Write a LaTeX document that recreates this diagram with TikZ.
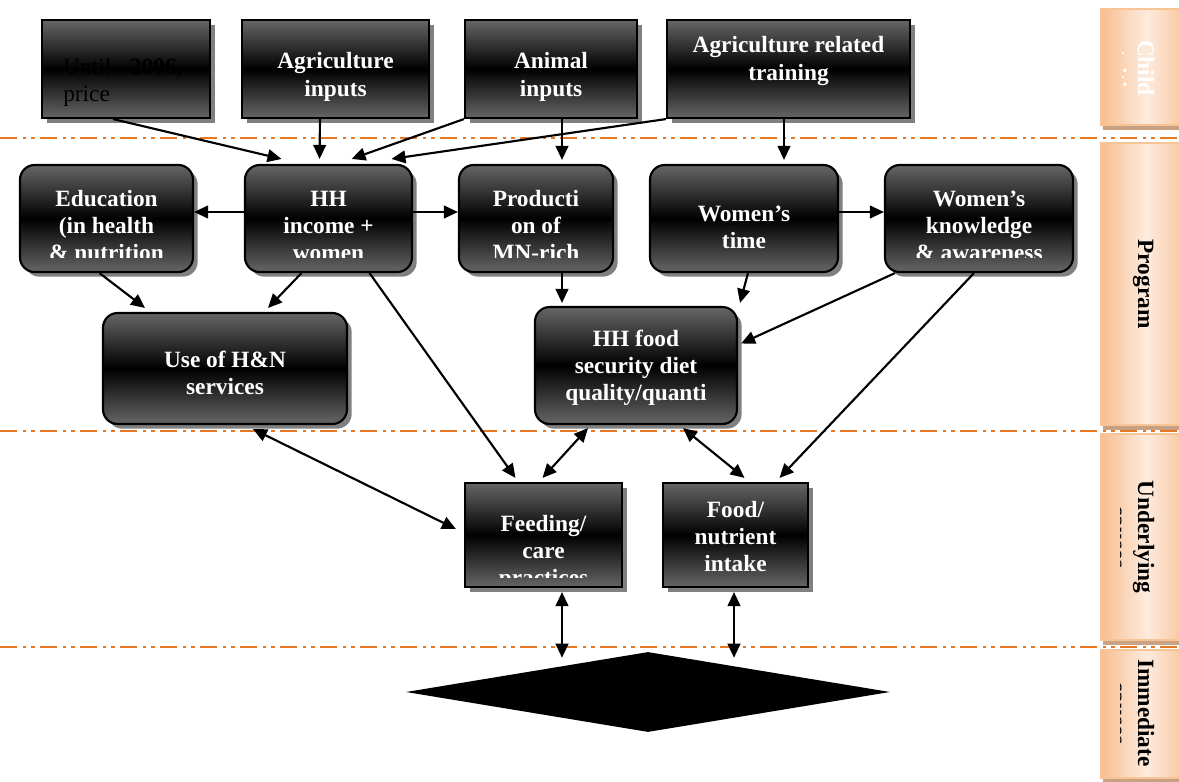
\documentclass[tikz,border=0pt]{standalone}
\usepackage{fontspec}
\setmainfont{Liberation Serif}
\usetikzlibrary{shapes.geometric,arrows.meta,calc,fit,shadows}
\definecolor{orng}{RGB}{232,119,34}
\definecolor{pk}{RGB}{248,190,145}
\definecolor{pl}{RGB}{253,236,222}
\definecolor{pkb}{RGB}{247,196,150}
\definecolor{pks}{RGB}{200,160,130}
\definecolor{gtop}{RGB}{102,102,102}
\tikzset{
 gbox/.style={draw=black, line width=1.6pt, top color=gtop, bottom color=gtop, middle color=black, inner sep=0pt,
   drop shadow={shadow xshift=3.5pt, shadow yshift=-3.5pt, fill=black!50, opacity=1}},
 rbox/.style={gbox, rounded corners=11pt},
 txt/.style={text=white, font=\fontsize{17.5}{20.5}\selectfont\bfseries, align=center, inner sep=0pt, anchor=north},
 arr/.style={line width=1.6pt, -{Triangle[length=10.5pt,width=9.5pt]}},
 darr/.style={line width=1.6pt, {Triangle[length=10.5pt,width=9.5pt]}-{Triangle[length=10.5pt,width=9.5pt]}},
 sep/.style={draw=orng, line width=2pt, dash pattern=on 13pt off 4pt on 2.5pt off 4pt on 2.5pt off 4pt},
 lbox/.style={draw=pkb, line width=1pt, left color=pk, right color=pk, middle color=pl, inner sep=0pt,
   drop shadow={shadow xshift=1.5pt, shadow yshift=-3.5pt, fill=pks, opacity=1}},
 ltxt/.style={font=\fontsize{17.5}{20.5}\selectfont\bfseries, rotate=-90, anchor=base, inner sep=0pt},
}
\begin{document}
\begin{tikzpicture}[x=0.75pt,y=-0.75pt]
\fill[white] (0,0) rectangle (1179,782);
\useasboundingbox (0,0) rectangle (1179,782);
% separators
\draw[sep] (0,138) -- (1179,138);
\draw[sep] (0,431) -- (1179,431);
\draw[sep] (0,647) -- (1179,647);
% level labels
\node[lbox, fit={(1101,9) (1192,125)}] (lchild) {};
\node[ltxt, text=white] (tchild) at (1138,68) {Child};
\begin{scope}\clip (1122,20) rectangle (1192,120);
\node[ltxt, text=white] (tchild2) at (1110.7,68) {nutrition};
\end{scope}
\node[lbox, fit={(1101,143) (1192,425)}] (lprog) {};
\node[ltxt] (tprog) at (1138,284) {Program};
\node[lbox, fit={(1101,434) (1192,640)}] (lunder) {};
\node[ltxt] (tunder) at (1138,537) {Underlying};
\begin{scope}\clip (1120,450) rectangle (1192,630);
\node[ltxt] (tunder2) at (1110.7,537) {causes};
\end{scope}
\node[lbox, fit={(1101,650) (1192,778)}] (limmed) {};
\node[ltxt] (timmed) at (1138,713) {Immediate};
\begin{scope}\clip (1120,660) rectangle (1192,775);
\node[ltxt] (timmed2) at (1110.7,713) {causes};
\end{scope}
% top row
\node[gbox, fit={(42,20) (210,118)}] (until) {};
\node[txt, text=black, font=\fontsize{17.5}{20.5}\selectfont, align=left, anchor=north west] (tuntil) at (63,54.9) {\strut Until\hspace{14pt}\textbf{2006,}\\price};
\node[gbox, fit={(242,20) (429,118)}] (agin) {};
\node[txt] (tagin) at (335.5,49.5) {\strut Agriculture\\inputs};
\node[gbox, fit={(465,20) (637,118)}] (anin) {};
\node[txt] (tanin) at (551,49.5) {\strut Animal\\inputs};
\node[gbox, fit={(667,20) (910,118)}] (train) {};
\node[txt] (ttrain) at (788.5,33.5) {\strut Agriculture related\\training};
% second row
\node[rbox, fit={(20,165) (193,272)}] (edu) {};
\begin{scope}\clip (20,165) rectangle (193,257);
\node[txt] (tedu) at (106.5,186.9) {\strut Education\\(in health\\\& nutrition};
\end{scope}
\node[rbox, fit={(245,165) (412,272)}] (hh) {};
\begin{scope}\clip (245,165) rectangle (412,257);
\node[txt] (thh) at (328.5,186.9) {\strut HH\\income +\\women};
\end{scope}
\node[rbox, fit={(459,165) (613,272)}] (prod) {};
\begin{scope}\clip (459,165) rectangle (613,257);
\node[txt] (tprod) at (536,186.9) {\strut Producti\\on of\\MN-rich};
\end{scope}
\node[rbox, fit={(650,165) (838,272)}] (wtime) {};
\node[txt] (twtime) at (744,201.9) {\strut Women’s\\time};
\node[rbox, fit={(885,165) (1073,272)}] (wknow) {};
\begin{scope}\clip (885,165) rectangle (1073,257);
\node[txt] (twknow) at (979,186.9) {\strut Women’s\\knowledge\\\& awareness};
\end{scope}
% third row
\node[rbox, fit={(103,313) (347,424)}] (usehn) {};
\node[txt] (tusehn) at (225,347.9) {\strut Use of H\&N\\services};
\node[rbox, fit={(535,307) (737,424)}] (foodsec) {};
\node[txt] (tfoodsec) at (636,326.9) {\strut HH food\\security diet\\quality/quanti};
% fourth row
\node[gbox, fit={(465,483) (622,587)}] (feed) {};
\begin{scope}\clip (465,483) rectangle (622,577);
\node[txt] (tfeed) at (543.5,511.9) {\strut Feeding/\\care\\practices};
\end{scope}
\node[gbox, fit={(663,483) (808,587)}] (intake) {};
\node[txt] (tintake) at (735.5,497.9) {\strut Food/\\nutrient\\intake};
% diamond
\node[diamond, fill=black, aspect=6.05, minimum width=363pt, minimum height=60pt, inner sep=0pt] (dia) at (648,692) {};
% connectors
\draw[arr] ($(until.south)+(-13,0)$) -- ($(hh.north)+(-47,-5)$);
\draw[arr] ($(agin.south)+(-15.5,0)$) -- ($(hh.north)+(-9,-5)$);
\draw[arr] (anin.south west) -- ($(hh.north)+(23,-5)$);
\draw[arr] (train.south west) -- ($(hh.north)+(63,-5)$);
\draw[arr] ($(anin.south)+(11,0)$) -- ($(prod.north)+(26,-4)$);
\draw[arr] ($(train.south)+(-4.5,0)$) -- ($(wtime.north)+(40,-4)$);
\draw[arr] ($(hh.west)+(0,-6.5)$) -- ($(edu.east)+(0,-6.5)$);
\draw[arr] ($(hh.east)+(0,-6.5)$) -- ($(prod.west)+(0,-6.5)$);
\draw[arr] ($(wtime.east)+(0,-6.5)$) -- ($(wknow.west)+(0,-6.5)$);
\draw[arr] ($(edu.south)+(-7,0)$) -- ($(usehn.north)+(-80,-4)$);
\draw[arr] ($(hh.south)+(-27,0)$) -- ($(usehn.north)+(43,-4)$);
\draw[arr] ($(hh.south)+(41,0)$) -- ($(feed.north)+(-28,-4)$);
\draw[arr] ($(prod.south)+(26,0)$) -- ($(foodsec.north)+(-74,-3)$);
\draw[arr] ($(wtime.south)+(4,0)$) -- ($(foodsec.north)+(104,-3)$);
\draw[arr] ($(wknow.south)+(-84,0)$) -- ($(foodsec.east)+(3,-22)$);
\draw[arr] ($(wknow.south)+(-5,0)$) -- ($(intake.north)+(44,-4)$);
\draw[darr] ($(usehn.south)+(28,4)$) -- ($(feed.west)+(-8,-6)$);
\draw[darr] ($(foodsec.south)+(-48,3)$) -- ($(feed.north)+(-1,-4)$);
\draw[darr] ($(foodsec.south)+(47,3)$) -- ($(intake.north)+(9,-4)$);
\draw[darr] ($(feed.south)+(18.5,4)$) -- ($(dia.north)+(-86,6)$);
\draw[darr] ($(intake.south)+(-1.5,4)$) -- ($(dia.north)+(86,6)$);
\end{tikzpicture}
\end{document}
